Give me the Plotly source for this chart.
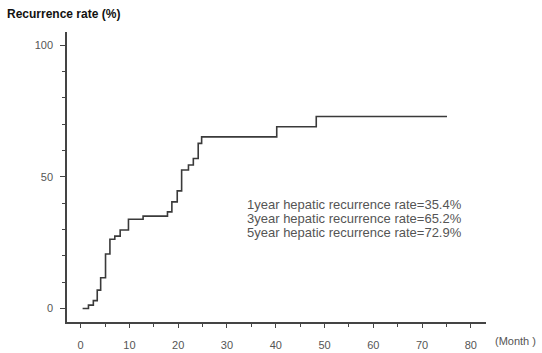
import plotly.graph_objects as go

# Data (Kaplan-Meier style step curve)
months = [0.4, 1.6, 2.6, 3.4, 4.1, 5.1, 6.0, 7.0, 8.1, 9.8, 12.8, 17.8, 18.7,
          19.8, 20.7, 22.1, 23.1, 24.1, 24.8, 40.2, 48.3, 75.1]
rates = [0, 1.3, 3.0, 7.0, 11.7, 20.7, 26.3, 27.5, 29.8, 33.9, 35.1, 36.7, 40.5,
         44.7, 52.6, 54.5, 57.0, 62.7, 65.2, 69.0, 72.9, 72.9]

x_ticks = [0, 10, 20, 30, 40, 50, 60, 70, 80]
y_ticks = [0, 50, 100]
notes = ["1year hepatic recurrence rate=35.4%",
         "3year hepatic recurrence rate=65.2%",
         "5year hepatic recurrence rate=72.9%"]

FONT = "Liberation Sans, Arial, sans-serif"
PW, PH = 419, 290  # plot area size in px

fig = go.Figure()
fig.add_trace(go.Scatter(
    x=months, y=rates, mode="lines", line_shape="hv",
    line=dict(color="#3a3a3a", width=1.6), showlegend=False, hoverinfo="skip"))

fig.update_layout(
    width=542, height=353,
    margin=dict(l=67, r=56, t=32, b=31, autoexpand=False),
    paper_bgcolor="white", plot_bgcolor="white",
    font=dict(family=FONT, size=11, color="#555555"),
    xaxis=dict(range=[-2.8, 83.1], tickvals=x_ticks, showgrid=False, zeroline=False,
               automargin=False,
               showline=True, linecolor="#444444", linewidth=1.5,
               ticks="outside", ticklen=4, tickcolor="#444444", tickwidth=1,
               minor=dict(dtick=5, tick0=0, ticks="outside", ticklen=3,
                          tickcolor="#444444", showgrid=False),
               ticklabelstandoff=8, tickfont=dict(size=11, color="#555555")),
    yaxis=dict(range=[-5.1, 105], tickvals=y_ticks, showgrid=False, zeroline=False,
               automargin=False,
               showline=True, linecolor="#444444", linewidth=1.5,
               ticks="outside", ticklen=5, tickcolor="#444444", tickwidth=1,
               minor=dict(dtick=10, tick0=0, ticks="outside", ticklen=3,
                          tickcolor="#444444", showgrid=False),
               ticklabelstandoff=5, tickfont=dict(size=11, color="#555555")),
)

fig.add_annotation(text="Recurrence rate (%)", xref="paper", yref="paper",
                   x=(5 - 67) / PW, y=1 + 18 / PH, xanchor="left", yanchor="middle",
                   showarrow=False, font=dict(family=FONT, size=12, color="#111111",
                                              weight="bold"))
fig.add_annotation(text="(Month )", xref="paper", yref="paper",
                   x=1 + 7 / PW, y=-19 / PH, xanchor="left", yanchor="middle",
                   showarrow=False, font=dict(family=FONT, size=11, color="#555555"))
for txt, ypx in zip(notes, [204, 218.5, 233]):
    fig.add_annotation(text=txt, xref="paper", yref="paper",
                       x=(245 - 67) / PW, y=(322 - ypx) / PH,
                       xanchor="left", yanchor="middle", align="left", showarrow=False,
                       font=dict(family=FONT, size=13, color="#555555"))

fig.write_html("out.html", config={"displayModeBar": False},
               post_script="document.body.style.margin='0';")
